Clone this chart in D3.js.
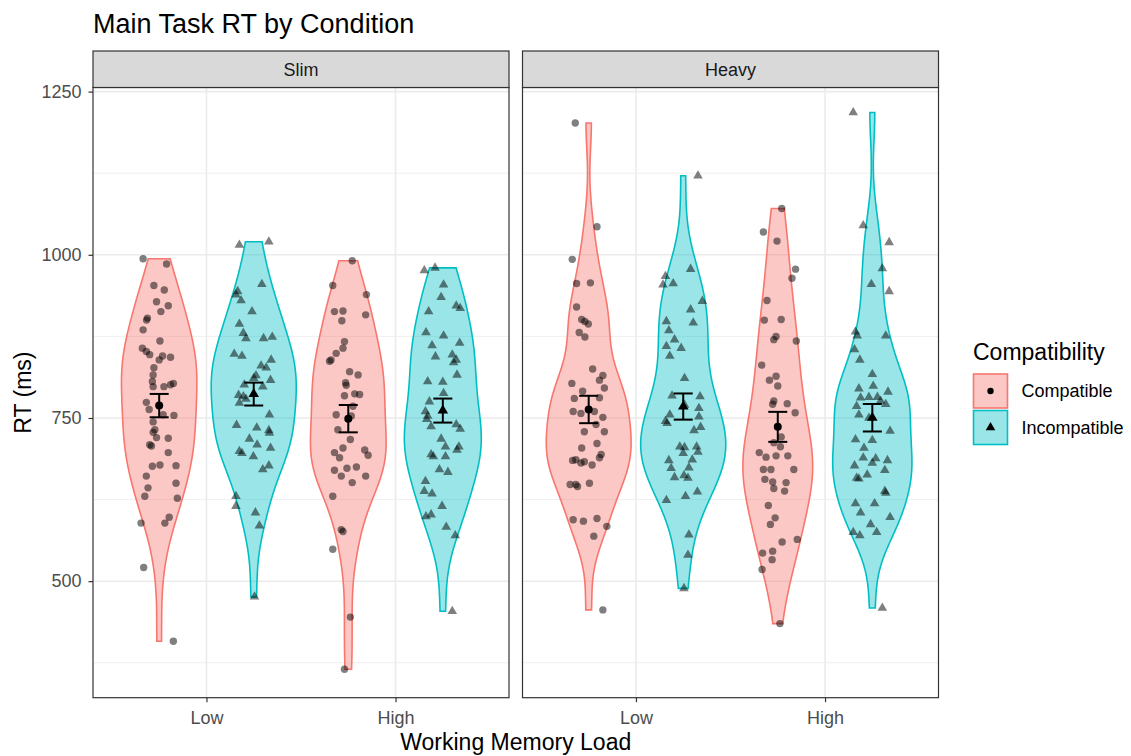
<!DOCTYPE html>
<html><head><meta charset="utf-8">
<script src="https://cdn.jsdelivr.net/npm/d3@7"></script>
<style>body{margin:0;background:#fff} text{font-family:"Liberation Sans",Arial,sans-serif}</style>
</head><body><svg id="chart" width="1131" height="756"></svg>
<script>
// ---------------- DATA ----------------
const panels = ["Slim", "Heavy"];
const loads = ["Low", "High"];
const compat = ["Compatible", "Incompatible"];
const yTicks = [500, 750, 1000, 1250];
const yMinorTicks = [375, 625, 875, 1125];

const slimLowCompatible = [994,986,953,946,928,922,913,903,900,885,868,857,852,847,845,843,839,827,816,806,798,798,801,803,774,763,755,754,744,732,728,720,719,709,707,697,676,678,677,661,650,643,630,627,598,589,589,521,408];
const slimLowCompatibleJitter = [-0.085,0.039,-0.028,0.027,-0.014,0.048,0.009,-0.062,-0.067,-0.085,0.004,-0.089,-0.068,-0.050,0.018,0.060,0,-0.028,-0.032,-0.036,-0.032,0.025,0.060,0.075,-0.068,-0.053,0.021,0.078,-0.032,-0.023,-0.032,-0.014,0.048,-0.050,-0.041,0.048,-0.036,0.004,0.089,-0.068,0.089,-0.059,-0.076,0.096,0.053,0.030,-0.096,-0.082,0.075];

const slimLowIncompatible = [1015,1020,955,944,939,930,913,894,880,872,872,874,848,845,839,830,827,815,811,808,801,798,785,783,779,773,755,739,735,731,727,718,709,704,699,696,691,677,671,630,615,605,585,476];
const slimLowIncompatibleJitter = [-0.076,0.080,0.043,-0.085,-0.094,-0.067,-0.009,-0.076,-0.055,-0.041,0.052,0.098,-0.103,-0.062,0.092,0.039,0.066,0.012,0,0.089,-0.050,0.048,-0.080,-0.055,-0.041,-0.076,0.083,-0.091,0.016,0.080,0.083,-0.023,0.018,0.089,-0.076,-0.062,-0.002,0.080,0.048,-0.094,-0.094,0.009,0.030,0.004];

const slimHighCompatible = [991,953,939,913,914,908,899,867,857,849,839,837,821,816,804,800,784,787,786,768,755,753,732,717,704,697,701,693,673,675,670,661,661,651,630,579,576,549,445,365,689];
const slimHighCompatibleJitter = [0.021,-0.082,0.096,-0.073,-0.028,0.092,-0.034,-0.020,-0.028,-0.064,-0.091,-0.099,0.007,0.052,-0.014,-0.011,-0.020,0.034,0.060,0.025,-0.064,0.016,-0.055,0.011,-0.028,-0.073,0.087,0.105,-0.007,0.043,-0.073,-0.037,0.092,0.021,-0.082,-0.037,-0.028,-0.082,0.011,-0.020,-0.046];

const slimHighIncompatible = [976,980,954,935,913,922,918,881,876,865,861,844,847,839,835,816,806,805,788,775,760,753,748,740,737,733,718,706,706,701,694,691,691,671,667,653,638,634,615,602,599,583,570,454];
const slimHighIncompatibleJitter = [-0.098,-0.041,0.004,-0.009,-0.075,0.071,0.092,-0.089,0.004,0.089,-0.057,-0.039,0.050,0.071,0.057,0.075,-0.080,0,0.004,-0.071,-0.092,-0.080,-0.085,0.071,-0.062,0.092,-0.009,0.014,0.085,0.075,-0.062,-0.050,0.014,-0.018,0.027,-0.092,-0.098,-0.057,-0.004,-0.062,-0.089,0.018,0.066,0.050];

const heavyLowCompatible = [1202,1043,993,956,957,920,901,898,894,881,874,825,815,808,803,791,796,780,781,760,757,760,751,740,729,729,711,704,694,689,685,686,681,683,678,648,648,645,650,594,592,596,584,569,456];
const heavyLowCompatibleJitter = [-0.071,0.044,-0.087,-0.064,0.009,-0.064,-0.037,-0.020,-0.002,-0.050,-0.020,0.021,0.075,0.057,-0.089,-0.032,0.083,-0.076,0.057,-0.082,-0.041,0.030,0.075,0.039,-0.023,0.083,0.044,-0.037,0.066,0.057,-0.085,-0.068,-0.041,-0.023,0.018,-0.098,-0.068,-0.059,0.004,-0.082,-0.028,0.044,0.096,0.027,0.075];

const heavyLowIncompatible = [1121,978,967,954,956,929,916,896,898,884,870,860,857,845,811,784,783,770,765,755,752,745,742,736,731,706,705,706,696,698,685,673,659,662,658,637,630,624,571,540,489,674,686];
const heavyLowIncompatibleJitter = [0.078,0.039,-0.094,-0.107,-0.053,0.101,0.039,0.053,-0.089,-0.076,-0.046,-0.089,-0.011,-0.071,0.007,-0.059,0.089,0.007,0.083,-0.071,0.083,-0.094,-0.085,0.092,0.057,-0.018,0.007,0.071,0,0.078,-0.076,-0.064,-0.046,0.004,0.025,0.075,0.012,-0.089,0.030,0.025,0.004,0.030,0.048];

const heavyHighCompatible = [1071,1035,1021,978,964,930,900,901,875,870,868,831,808,814,799,776,771,772,758,721,712,706,697,690,692,692,671,671,671,656,652,651,642,638,616,597,587,564,560,543,546,533,518,435];
const heavyHighCompatibleJitter = [0.021,-0.076,-0.004,0.094,0.075,-0.057,-0.071,0.018,-0.009,-0.021,0.098,-0.085,-0.044,-0.009,0,-0.021,-0.027,0.050,0.092,0.018,-0.021,0.014,-0.098,-0.062,-0.009,0.053,0.085,-0.076,-0.036,-0.068,-0.027,0.044,-0.021,0.036,-0.050,-0.014,-0.039,0.103,0.023,-0.080,-0.027,-0.030,-0.083,0.011];

const heavyHighIncompatible = [1218,1045,1019,979,955,944,882,876,876,855,839,817,799,795,790,781,782,782,776,768,771,755,750,730,717,716,704,689,688,685,681,677,670,658,657,663,638,635,619,619,605,598,587,575,570,575,459];
const heavyHighIncompatibleJitter = [-0.101,-0.048,0.089,0.053,-0.005,0.089,-0.089,-0.080,0.071,-0.094,-0.066,0,0.005,-0.071,0.083,-0.062,-0.018,0.027,0.044,-0.083,0.071,-0.071,-0.018,0.094,-0.089,0,-0.044,-0.048,0.018,0.080,0,-0.094,0.066,-0.083,-0.071,-0.027,0.066,0.071,-0.089,0.012,-0.062,0.094,-0.009,-0.101,-0.066,0.023,0.053];

const groups = [
  {panel:"Slim",  load:"Low",  comp:"Compatible",   values:slimLowCompatible,    jitter:slimLowCompatibleJitter},
  {panel:"Slim",  load:"Low",  comp:"Incompatible", values:slimLowIncompatible,  jitter:slimLowIncompatibleJitter},
  {panel:"Slim",  load:"High", comp:"Compatible",   values:slimHighCompatible,   jitter:slimHighCompatibleJitter},
  {panel:"Slim",  load:"High", comp:"Incompatible", values:slimHighIncompatible, jitter:slimHighIncompatibleJitter},
  {panel:"Heavy", load:"Low",  comp:"Compatible",   values:heavyLowCompatible,   jitter:heavyLowCompatibleJitter},
  {panel:"Heavy", load:"Low",  comp:"Incompatible", values:heavyLowIncompatible, jitter:heavyLowIncompatibleJitter},
  {panel:"Heavy", load:"High", comp:"Compatible",   values:heavyHighCompatible,  jitter:heavyHighCompatibleJitter},
  {panel:"Heavy", load:"High", comp:"Incompatible", values:heavyHighIncompatible,jitter:heavyHighIncompatibleJitter}
];

// ---------------- LAYOUT / STYLE ----------------
const svg = d3.select("#chart");
svg.append("rect").attr("width",1131).attr("height",756).attr("fill","#fff");
const FONT = '"Liberation Sans", Arial, sans-serif';
const colors = {Compatible:"#F8766D", Incompatible:"#00BFC4"};
const fillAlpha = 0.4;
const panelRange = {Slim:[93,509], Heavy:[522.5,938.5]};
const plotTop = 87.5, plotBottom = 697.7, stripTop = 51;
const dodge = {Compatible:-0.25, Incompatible:0.25};
const maxViolinWidth = 0.45; // in category step units

const y = d3.scaleLinear().domain([321.5, 1256.3]).range([plotBottom, plotTop]);

// title
svg.append("text").attr("x",93).attr("y",33).attr("font-size",27).attr("fill","#000")
  .text("Main Task RT by Condition");

// KDE helpers (gaussian kernel, bw.nrd0, trimmed to data range)
function bwNrd0(vals){
  const s = vals.slice().sort(d3.ascending);
  const sd = d3.deviation(s);
  const iqr = d3.quantile(s,0.75) - d3.quantile(s,0.25);
  let lo = Math.min(sd, iqr/1.34);
  if (!(lo > 0)) lo = sd || Math.abs(s[0]) || 1;
  return 0.9 * lo * Math.pow(s.length, -0.2);
}
function kde(vals){
  const h = bwNrd0(vals);
  const lo = d3.min(vals), hi = d3.max(vals), n = 512;
  const out = [];
  for (let i=0;i<n;i++){
    const t = lo + (hi-lo)*i/(n-1);
    let s = 0;
    for (const v of vals){ const z=(t-v)/h; s += Math.exp(-0.5*z*z); }
    out.push({v:t, d: s/(vals.length*h*Math.sqrt(2*Math.PI))});
  }
  return out;
}
groups.forEach(g => { g.dens = kde(g.values); g.mean = d3.mean(g.values); g.se = d3.deviation(g.values)/Math.sqrt(g.values.length); });

panels.forEach(p => {
  const [x0, x1] = panelRange[p];
  const x = d3.scalePoint().domain(loads).range([x0, x1]).padding(0.6);
  const step = x.step();
  const gp = svg.append("g");

  // panel background + grid
  gp.append("rect").attr("x",x0).attr("y",plotTop).attr("width",x1-x0).attr("height",plotBottom-plotTop).attr("fill","#fff");
  gp.selectAll(".minor").data(yMinorTicks).join("line")
    .attr("x1",x0).attr("x2",x1).attr("y1",d=>y(d)).attr("y2",d=>y(d))
    .attr("stroke","#ebebeb").attr("stroke-width",0.8);
  gp.selectAll(".major").data(yTicks).join("line")
    .attr("x1",x0).attr("x2",x1).attr("y1",d=>y(d)).attr("y2",d=>y(d))
    .attr("stroke","#ebebeb").attr("stroke-width",1.6);
  gp.selectAll(".vmajor").data(loads).join("line")
    .attr("x1",d=>x(d)).attr("x2",d=>x(d)).attr("y1",plotTop).attr("y2",plotBottom)
    .attr("stroke","#ebebeb").attr("stroke-width",1.6);

  const pg = groups.filter(g => g.panel === p);
  const panelMax = d3.max(pg, g => d3.max(g.dens, d => d.d));

  // violins
  pg.forEach(g => {
    const cx = x(g.load) + dodge[g.comp]*step;
    const half = d => d.d / panelMax * maxViolinWidth * step / 2;
    const area = d3.area().y(d => y(d.v)).x0(d => cx - half(d)).x1(d => cx + half(d));
    gp.append("path").datum(g.dens).attr("d", area)
      .attr("fill", colors[g.comp]).attr("fill-opacity", fillAlpha)
      .attr("stroke", colors[g.comp]).attr("stroke-width", 1.6);
  });

  // jittered points
  pg.forEach(g => {
    const cx = x(g.load) + dodge[g.comp]*step;
    const pts = g.values.map((v,i) => ({v, j:g.jitter[i]}));
    if (g.comp === "Compatible") {
      gp.selectAll(null).data(pts).join("circle")
        .attr("cx", d => cx + d.j*step).attr("cy", d => y(d.v)).attr("r", 3.7)
        .attr("fill","#000").attr("fill-opacity",0.5);
    } else {
      gp.selectAll(null).data(pts).join("path")
        .attr("d", d3.symbol(d3.symbolTriangle, 40))
        .attr("transform", d => `translate(${cx + d.j*step},${y(d.v)})`)
        .attr("fill","#000").attr("fill-opacity",0.5);
    }
  });

  // mean +/- SE
  pg.forEach(g => {
    const cx = x(g.load) + dodge[g.comp]*step;
    const lo = y(g.mean - g.se), hi = y(g.mean + g.se);
    const eb = gp.append("g").attr("stroke","#000").attr("stroke-width",2);
    eb.append("line").attr("x1",cx).attr("x2",cx).attr("y1",lo).attr("y2",hi);
    eb.append("line").attr("x1",cx-9.5).attr("x2",cx+9.5).attr("y1",lo).attr("y2",lo);
    eb.append("line").attr("x1",cx-9.5).attr("x2",cx+9.5).attr("y1",hi).attr("y2",hi);
    if (g.comp === "Compatible") {
      gp.append("circle").attr("cx",cx).attr("cy",y(g.mean)).attr("r",4).attr("fill","#000");
    } else {
      gp.append("path").attr("d", d3.symbol(d3.symbolTriangle, 48)())
        .attr("transform",`translate(${cx},${y(g.mean)})`).attr("fill","#000");
    }
  });

  // panel border
  gp.append("rect").attr("x",x0).attr("y",plotTop).attr("width",x1-x0).attr("height",plotBottom-plotTop)
    .attr("fill","none").attr("stroke","#333").attr("stroke-width",1.2);

  // strip
  gp.append("rect").attr("x",x0).attr("y",stripTop).attr("width",x1-x0).attr("height",plotTop-stripTop)
    .attr("fill","#d9d9d9").attr("stroke","#333").attr("stroke-width",1.2);
  gp.append("text").attr("x",(x0+x1)/2).attr("y",(stripTop+plotTop)/2).attr("dy","0.35em")
    .attr("text-anchor","middle").attr("font-size",18).attr("fill","#1a1a1a").text(p);

  // x axis
  const xa = gp.append("g").attr("transform",`translate(0,${plotBottom})`)
    .call(d3.axisBottom(x).tickSize(4.5).tickPadding(9));
  xa.select(".domain").remove();
  xa.selectAll(".tick line").attr("stroke","#333").attr("stroke-width",1.2);
  xa.selectAll(".tick text").attr("font-size",18).attr("fill","#4d4d4d").attr("font-family",FONT);
});

// y axis
const ya = svg.append("g").attr("transform",`translate(${panelRange.Slim[0]},0)`)
  .call(d3.axisLeft(y).tickValues(yTicks).tickFormat(d3.format("d")).tickSize(4.5).tickPadding(7));
ya.select(".domain").remove();
ya.selectAll(".tick line").attr("stroke","#333").attr("stroke-width",1.2);
ya.selectAll(".tick text").attr("font-size",18).attr("fill","#4d4d4d").attr("font-family",FONT);

// axis titles
svg.append("text").attr("x",(panelRange.Slim[0]+panelRange.Heavy[1])/2).attr("y",750)
  .attr("text-anchor","middle").attr("font-size",23).attr("fill","#000").text("Working Memory Load");
svg.append("text").attr("transform",`translate(31,${(plotTop+plotBottom)/2}) rotate(-90)`)
  .attr("text-anchor","middle").attr("font-size",23).attr("fill","#000").text("RT (ms)");

// legend
const lg = svg.append("g");
lg.append("text").attr("x",973).attr("y",360).attr("font-size",23).attr("fill","#000").text("Compatibility");
compat.forEach((c,i) => {
  const ky = 374 + i*36.5;
  lg.append("rect").attr("x",973.5).attr("y",ky).attr("width",34).attr("height",34)
    .attr("fill",colors[c]).attr("fill-opacity",fillAlpha).attr("stroke",colors[c]).attr("stroke-width",1.6);
  if (c === "Compatible") {
    lg.append("circle").attr("cx",990.5).attr("cy",ky+17).attr("r",3.2).attr("fill","#000");
  } else {
    lg.append("path").attr("d", d3.symbol(d3.symbolTriangle, 40)())
      .attr("transform",`translate(990.5,${ky+17})`).attr("fill","#000");
  }
  lg.append("text").attr("x",1021.5).attr("y",ky+17).attr("dy","0.35em")
    .attr("font-size",18).attr("fill","#000").text(c);
});
</script>
</body></html>
